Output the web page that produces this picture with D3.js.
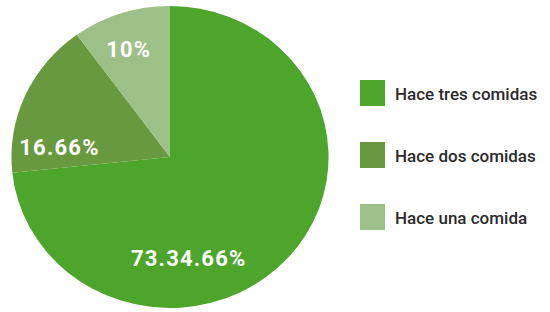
<!DOCTYPE html>
<html>
<head>
<meta charset="utf-8">
<script src="https://cdn.jsdelivr.net/npm/d3@7"></script>
<style>
  body { margin: 0; background: #fff; }
  svg { display: block; }
</style>
</head>
<body>
<div id="chart"></div>
<script>
// data
const categories = ['Hace tres comidas', 'Hace dos comidas', 'Hace una comida'];
const values = [73.34, 16.66, 10];
const labels = ['73.34.66%', '16.66%', '10%'];
const colors = ['#4ea52b', '#69993f', '#9dc088'];

const width = 550;
const height = 312;

const svg = d3.select('#chart').append('svg')
  .attr('width', width)
  .attr('height', height);

const cx = 170, cy = 157;
const radius = 151;
// the printed pie is a bit wider than tall
const sx = 1.05;

const pie = d3.pie()
  .sort(null)
  .value(d => d.value)
  .startAngle(0)
  .endAngle(2 * Math.PI);

const data = categories.map((c, i) => ({ cat: c, value: values[i], label: labels[i], color: colors[i] }));
const arcs = pie(data);

const arc = d3.arc().innerRadius(0).outerRadius(radius);

const g = svg.append('g')
  .attr('transform', `translate(${cx},${cy}) scale(${sx},1)`);

g.selectAll('path')
  .data(arcs)
  .enter().append('path')
  .attr('d', arc)
  .attr('fill', d => d.data.color);

// label placement: fraction of radius and angle shift (deg) from slice middle
const labelR = [0.68, 0.70, 0.76];
const labelShift = [38, -19, -2];
function labelPos(d, i) {
  const a = (d.startAngle + d.endAngle) / 2 + labelShift[i] * Math.PI / 180;
  return [cx + Math.sin(a) * radius * labelR[i] * sx, cy - Math.cos(a) * radius * labelR[i]];
}

svg.selectAll('text.pct')
  .data(arcs)
  .enter().append('text')
  .attr('class', 'pct')
  .attr('x', (d, i) => labelPos(d, i)[0])
  .attr('y', (d, i) => labelPos(d, i)[1])
  .attr('dy', '0.35em')
  .attr('text-anchor', 'middle')
  .attr('fill', '#fff')
  .style('font-family', 'Roboto, sans-serif')
  .style('font-weight', 'bold')
  .style('font-size', '22px')
  .style('letter-spacing', '1.2px')
  .text(d => d.data.label);

// legend
const y = d3.scaleBand()
  .domain(categories)
  .range([62, 248]);

const legend = svg.selectAll('g.legend')
  .data(data)
  .enter().append('g')
  .attr('class', 'legend')
  .attr('transform', d => `translate(360,${y(d.cat) + y.bandwidth() / 2})`);

legend.append('rect')
  .attr('x', 0)
  .attr('y', -13)
  .attr('width', 25)
  .attr('height', 26)
  .attr('fill', d => d.color);

legend.append('text')
  .attr('x', 35)
  .attr('y', 7)
  .attr('fill', '#2b2b2b')
  .style('font-family', 'Roboto, sans-serif')
  .style('font-weight', '500')
  .style('font-size', '17px')
  .text(d => d.cat);
</script>
</body>
</html>
